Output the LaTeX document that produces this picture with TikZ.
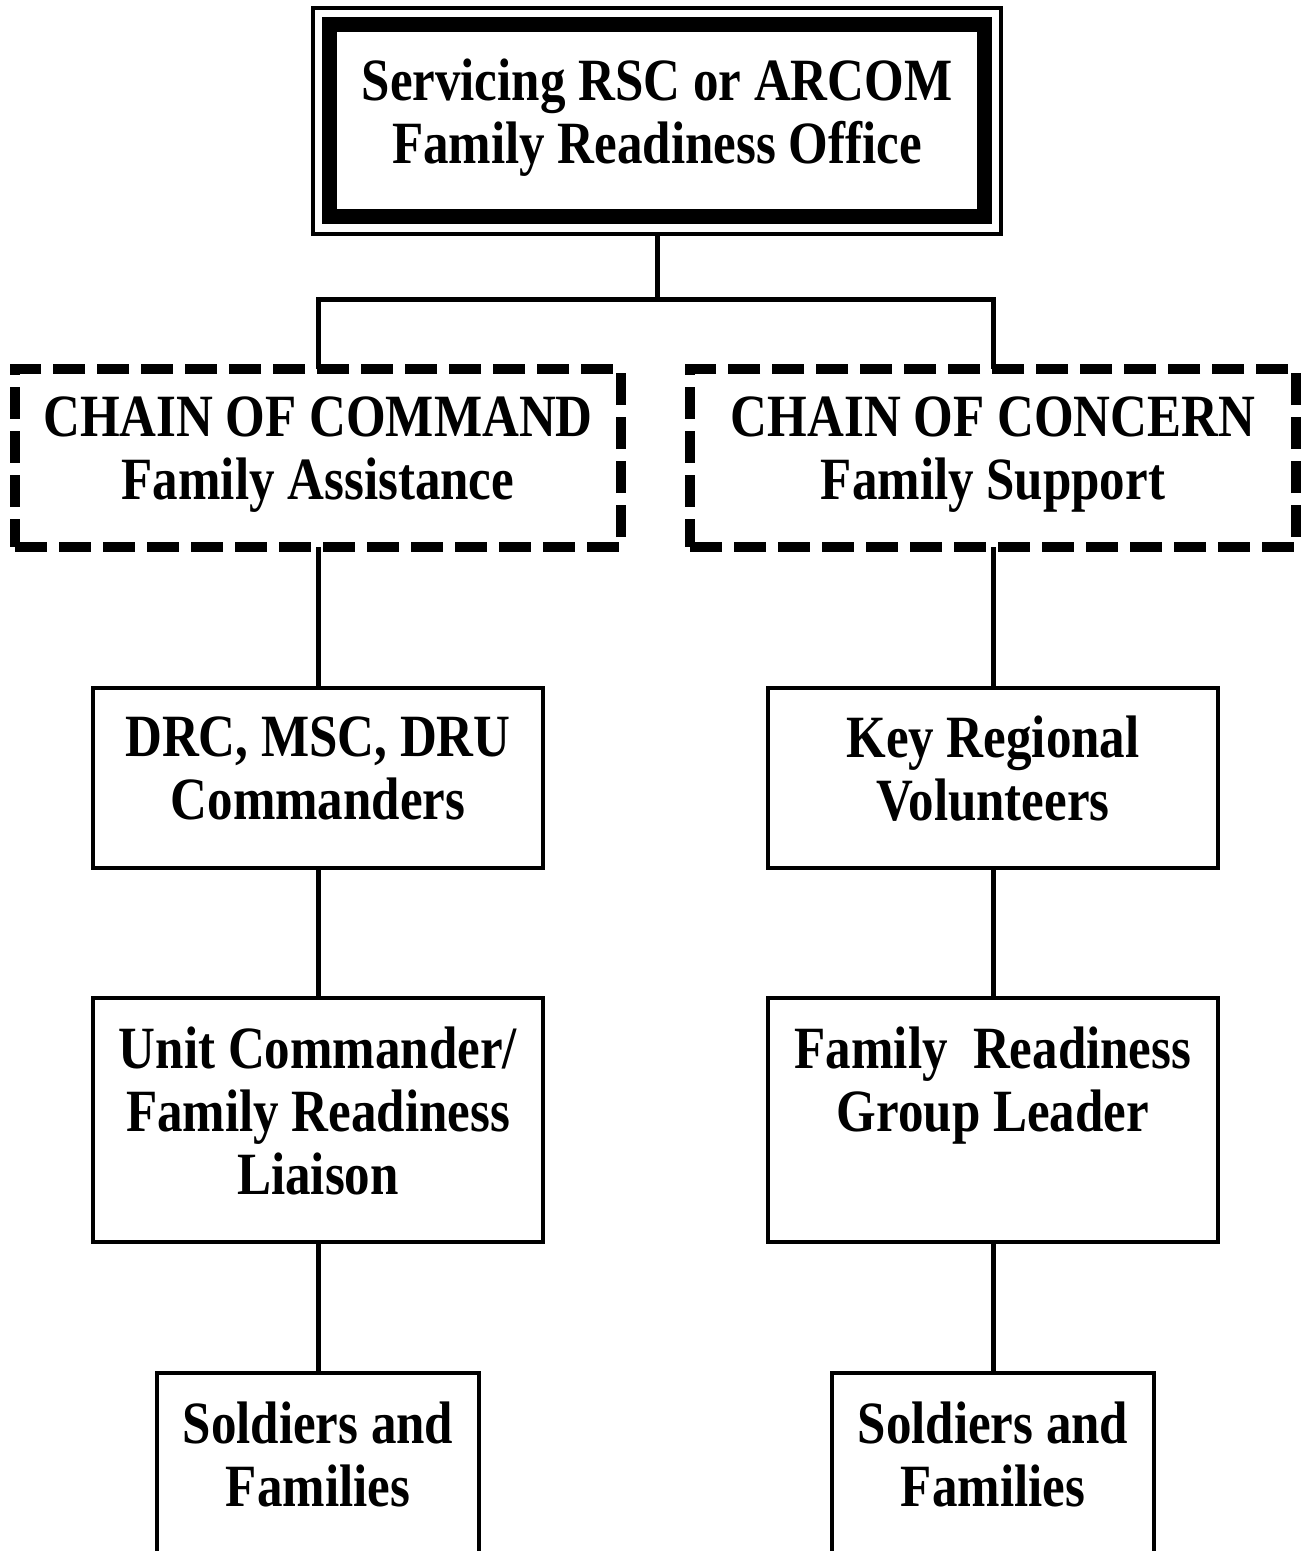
\documentclass[tikz,border=0pt]{standalone}
\usepackage{fontspec}
\setmainfont{Liberation Serif}[FakeStretch=0.85]
\usetikzlibrary{positioning}

\begin{document}
\begin{tikzpicture}[
  x=0.5pt, y=-0.5pt,
  node distance=65pt,
  txt/.style={align=center, font=\bfseries\fontsize{30pt}{31.5pt}\selectfont,
    outer sep=0pt, execute at begin node=\strut, execute at end node=\strut},
  box/.style={txt, draw, line width=2.25pt, minimum width=225pt, minimum height=90pt},
  tallbox/.style={box, minimum height=122pt},
  endbox/.style={tallbox, minimum width=161pt},
  chain/.style={txt, draw, line width=5pt, dash pattern=on 16pt off 6pt,
    minimum width=303pt, minimum height=89pt},
  office/.style={txt, draw, line width=2pt, minimum width=344pt, minimum height=113pt},
  link/.style={line width=2.5pt}
]
  \useasboundingbox (0,0) rectangle (1307,1551);
  \clip (0,0) rectangle (1307,1551);

  \node[office] (rfo) at (657,121) {Servicing RSC or ARCOM\\Family Readiness Office};
  \draw[line width=7.5pt] ([shift={(8.25pt,-8.5pt)}]rfo.north west)
    rectangle ([shift={(-8.25pt,8.75pt)}]rfo.south east);
  \coordinate[below=32.75pt of rfo] (split);

  \node[chain] (command) at (318,458) {CHAIN OF COMMAND\\Family Assistance};
  \node[chain] (concern) at (993,458) {CHAIN OF CONCERN\\Family Support};

  \node[box, below=70.5pt of command] (drc)   {DRC, MSC, DRU\\Commanders};
  \node[tallbox, below=of drc] (unit)         {Unit Commander/\\Family Readiness\\Liaison};
  \node[endbox, below=65.5pt of unit] (sfl)   {Soldiers and\\Families\\~};

  \node[box, below=70.5pt of concern] (krv)   {Key Regional\\Volunteers};
  \node[tallbox, below=of krv] (frg)          {Family\ \ Readiness\\Group Leader\\~};
  \node[endbox, below=65.5pt of frg] (sfr)    {Soldiers and\\Families\\~};

  \draw[link] (rfo) -- (split);
  \draw[link] (command) |- (split) -| (concern);
  \draw[link] (command) -- (drc);
  \draw[link] (drc) -- (unit);
  \draw[link] (unit) -- (sfl);
  \draw[link] (concern) -- (krv);
  \draw[link] (krv) -- (frg);
  \draw[link] (frg) -- (sfr);
\end{tikzpicture}
\end{document}
